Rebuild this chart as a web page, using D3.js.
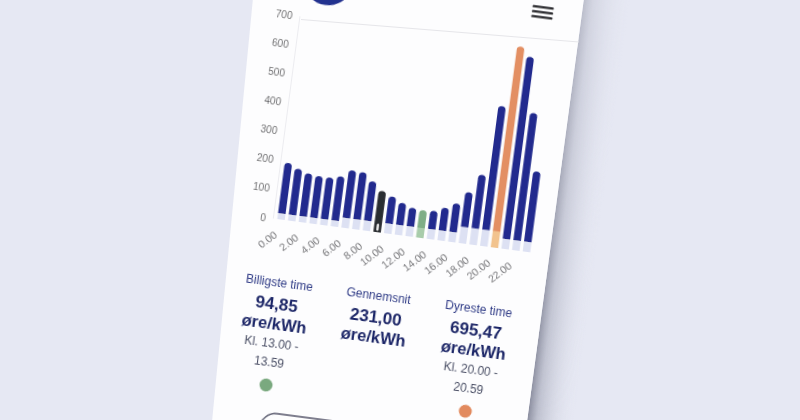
<!DOCTYPE html>
<html><head><meta charset="utf-8">
<script src="https://cdn.jsdelivr.net/npm/d3@7/dist/d3.min.js"></script>
<style>html,body{margin:0;padding:0;background:#e6e8f3;}svg{display:block}</style>
</head><body>
<svg id="c" width="800" height="420"></svg>
<script>
// ---------- data ----------
const hours = ["0.00","1.00","2.00","3.00","4.00","5.00","6.00","7.00","8.00","9.00","10.00","11.00",
               "12.00","13.00","14.00","15.00","16.00","17.00","18.00","19.00","20.00","21.00","22.00","23.00"];
// total price per hour (øre/kWh)
const totalPrice = [196,180,169,165,165,173,199,197,171,142,128,111,99,94.85,98,113,133,177,242,485,695.47,665,475,278];
// lower (tariff) part of each bar (øre/kWh)
const tariffPart = [22,22,22,22,22,22,35,35,35,35,35,35,35,35,35,35,35,58,58,58,58,35,35,35];
const yTicks = [0,100,200,300,400,500,600,700];
const xTickLabels = ["0.00","2.00","4.00","6.00","8.00","10.00","12.00","14.00","16.00","18.00","20.00","22.00"];
const currentHour = "9.00", cheapestHour = "13.00", dearestHour = "20.00";
const statTitles = ["Billigste time","Gennemsnit","Dyreste time"];
const statValues = ["94,85","231,00","695,47"];
const statUnit = "øre/kWh";
const statFrom = ["Kl. 13.00 -", null, "Kl. 20.00 -"];
const statTo = ["13.59", null, "20.59"];
const statDots = ["cheap", null, "dear"];

// ---------- drawing ----------
const svg = d3.select("#c");
const defs = svg.append("defs");
const FONT = "'Liberation Sans', Arial, sans-serif";

svg.append("rect").attr("width",800).attr("height",420).attr("fill","#e6e8f3");

// phone side shadow
const sg = defs.append("linearGradient").attr("id","sideShade").attr("gradientUnits","userSpaceOnUse")
  .attr("x1",556).attr("y1",210).attr("x2",556+46*0.99).attr("y2",210+46*0.133);
sg.append("stop").attr("offset",0).attr("stop-color","#7d8092").attr("stop-opacity",0.85);
sg.append("stop").attr("offset",0.2).attr("stop-color","#a3a6b6").attr("stop-opacity",0.6);
sg.append("stop").attr("offset",1).attr("stop-color","#e6e8f3").attr("stop-opacity",0);
const mg = defs.append("linearGradient").attr("id","vfade").attr("x1",0).attr("y1",0).attr("x2",0).attr("y2",1);
mg.append("stop").attr("offset",0).attr("stop-color","#fff").attr("stop-opacity",0.45);
mg.append("stop").attr("offset",1).attr("stop-color","#fff").attr("stop-opacity",1);
defs.append("mask").attr("id","shadeMask").append("rect").attr("width",800).attr("height",420).attr("fill","url(#vfade)");
svg.append("polygon").attr("points","584,-2 640,-2 583,422 527,422")
  .attr("fill","url(#sideShade)").attr("mask","url(#shadeMask)");

// phone screen
svg.append("polygon").attr("points","253,-2 584,-2 527,422 212,422").attr("fill","#fdfdfe");
// header separator
svg.append("line").attr("x1",301).attr("y1",19.5).attr("x2",579).attr("y2",42)
  .attr("stroke","#e6e6ea").attr("stroke-width",1);

defs.append("filter").attr("id","soft").append("feGaussianBlur").attr("stdDeviation",0.35);

const g = svg.append("g").attr("transform","rotate(7.5,400,210)").attr("filter","url(#soft)");

// header: logo + menu
g.append("ellipse").attr("cx",299).attr("cy",-1).attr("rx",22).attr("ry",17.5).attr("fill","#22308f");
[-5,0,5].forEach(dy => g.append("line").attr("x1",506).attr("x2",525).attr("y1",-4.6+dy).attr("y2",-4.6+dy)
  .attr("stroke","#2a2a2e").attr("stroke-width",2.4).attr("stroke-linecap","round"));

// scales
const x = d3.scaleBand().domain(hours).range([277.9,536.2]).paddingInner(0.3).paddingOuter(0.15);
const y = d3.scaleLinear().domain([0,700]).range([235,31]);

// y axis line
g.append("line").attr("x1",275.5).attr("x2",275.5).attr("y1",y(700)).attr("y2",y(0))
  .attr("stroke","#ececf0").attr("stroke-width",1);

// y labels
g.selectAll("text.yl").data(yTicks).join("text").attr("class","yl")
  .attr("x",268).attr("y",d => y(d)).attr("dy","0.35em").attr("text-anchor","end")
  .attr("font-family",FONT).attr("font-size",10).attr("fill","#707072").text(d => d);

// colors
function kind(h){ return h===currentHour?"now":h===cheapestHour?"cheap":h===dearestHour?"dear":"norm"; }
const upperCol = {norm:"#212a8e", cheap:"#7fae87", dear:"#e38f63", now:"#2c2e33"};
const lowerCol = {norm:"#dde1f3", cheap:"#a8ccab", dear:"#f2c38e", now:"#2c2e33"};

const bw = x.bandwidth(), r = bw/2;
const bars = g.append("g");
hours.forEach((h,i) => {
  const x0 = x(h), k = kind(h);
  const yb = y(0), yt = y(tariffPart[i]), yTop = y(totalPrice[i]);
  bars.append("rect").attr("x",x0).attr("y",yt).attr("width",bw).attr("height",yb-yt).attr("fill",lowerCol[k]);
  bars.append("path").attr("d",`M${x0},${yt+0.3} L${x0},${yTop+r} A${r},${r} 0 0 1 ${x0+bw},${yTop+r} L${x0+bw},${yt+0.3} Z`)
    .attr("fill",upperCol[k]);
  if(k==="now"){
    const ym = (yb+yt)/2;
    bars.append("rect").attr("x",x0+bw/2-1).attr("y",ym-3.5).attr("width",2).attr("height",7).attr("rx",1).attr("fill","#f4f4f4");
  }
});

// x labels
g.selectAll("text.xl").data(xTickLabels).join("text").attr("class","xl")
  .attr("transform",d => `translate(${x(d)+bw/2-1},${y(0)+17}) rotate(-45)`)
  .attr("text-anchor","end").attr("font-family",FONT).attr("font-size",10.5).attr("fill","#77777a").text(d => d);

// stats
const colX = [290,390,491];
const dotCol = {cheap:"#7aa97f", dear:"#e28a5e"};
statTitles.forEach((t,i) => {
  const cx = colX[i];
  g.append("text").attr("x",cx).attr("y",298+4.2).attr("text-anchor","middle").attr("font-family",FONT)
    .attr("font-size",12).attr("fill","#2f3b86").text(t);
  g.append("text").attr("x",cx).attr("y",319+6).attr("text-anchor","middle").attr("font-family",FONT)
    .attr("font-size",17).attr("font-weight","bold").attr("fill","#1f2868").text(statValues[i]);
  g.append("text").attr("x",cx).attr("y",339.5+5.5).attr("text-anchor","middle").attr("font-family",FONT)
    .attr("font-size",16.5).attr("font-weight","bold").attr("fill","#1f2868").text(statUnit);
  if(statFrom[i]){
    g.append("text").attr("x",cx).attr("y",358.5+4.2).attr("text-anchor","middle").attr("font-family",FONT)
      .attr("font-size",12).attr("fill","#4b5066").text(statFrom[i]);
    g.append("text").attr("x",cx).attr("y",377.5+4.2).attr("text-anchor","middle").attr("font-family",FONT)
      .attr("font-size",12).attr("fill","#4b5066").text(statTo[i]);
    g.append("circle").attr("cx",cx).attr("cy",401).attr("r",6.5).attr("fill",dotCol[statDots[i]]);
  }
});

// bottom button outline
g.append("rect").attr("x",289).attr("y",428).attr("width",206).attr("height",40).attr("rx",16)
  .attr("fill","none").attr("stroke","#55566a").attr("stroke-width",1.3);
</script>
</body></html>
